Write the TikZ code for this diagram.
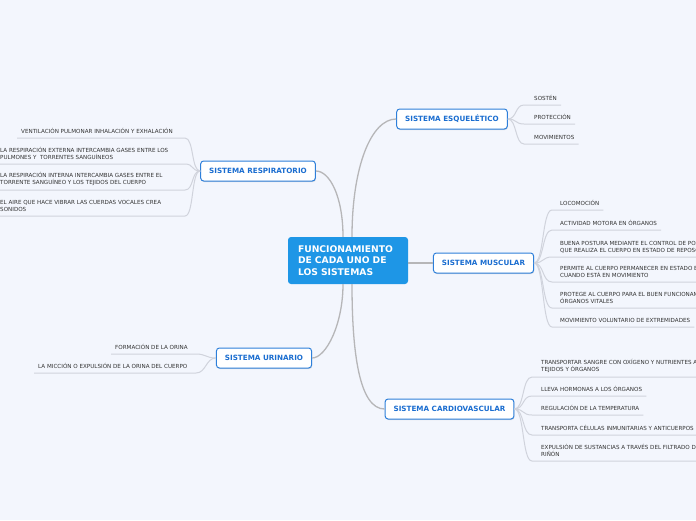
\documentclass[tikz,border=0pt]{standalone}
\usepackage{fontspec}
\setmainfont{DejaVu Sans}
\usetikzlibrary{shadows}

\definecolor{bgcol}{HTML}{F3F6FD}
\definecolor{cenfill}{HTML}{1E96E6}
\definecolor{brdraw}{HTML}{2D7FDA}
\definecolor{brtext}{HTML}{1A6DD0}
\definecolor{linkgray}{HTML}{B6B6B8}
\definecolor{leafgray}{HTML}{D0D3DC}
\definecolor{leaftext}{HTML}{333333}

\tikzset{
  central/.style={fill=cenfill, rounded corners=3pt, text=white, align=left,
    font=\bfseries\fontsize{9.2}{11.6}\selectfont, text width=100pt,
    inner xsep=10pt, minimum height=47pt},
  branch/.style={draw=brdraw, line width=1pt, fill=white, rounded corners=3pt,
    text=brtext, font=\bfseries\fontsize{7.2}{8}\selectfont, inner xsep=8.5pt,
    minimum height=20pt,
    drop shadow={shadow xshift=0.6pt, shadow yshift=-1pt, opacity=0.25}},
  leaf/.style={anchor=south west, inner sep=0pt, align=left, text=leaftext,
    font=\fontsize{5.6}{6.8}\selectfont},
  branchline/.style={draw=linkgray, line width=1.3pt},
  leafline/.style={draw=leafgray, line width=1pt},
}

\begin{document}
\begin{tikzpicture}[x=1pt, y=-1pt]
  \useasboundingbox (0,0) rectangle (696,520);
  \fill[bgcol] (0,0) rectangle (696,520);
  \clip (0,0) rectangle (696,520);

  % centre and systems
  \node[central] (cen) at (348,260.5) {FUNCIONAMIENTO\\DE CADA UNO DE\\LOS SISTEMAS};
  \node[branch] (esq) at (452,119) {SISTEMA ESQUELÉTICO};
  \node[branch] (res) at (258,171) {SISTEMA RESPIRATORIO};
  \node[branch] (mus) at (483.5,263) {SISTEMA MUSCULAR};
  \node[branch] (uri) at (264,358) {SISTEMA URINARIO};
  \node[branch] (car) at (449.5,409) {SISTEMA CARDIOVASCULAR};

  \draw[branchline] ([xshift=-5pt]cen.north) .. controls +(0,-40) and +(14,0) .. (res.east);
  \draw[branchline] ([xshift=4pt]cen.north) .. controls +(0,-70) and +(-25,0) .. (esq.west);
  \draw[branchline] ([xshift=-5pt]cen.south) .. controls +(0,40) and +(14,0) .. (uri.east);
  \draw[branchline] ([xshift=4pt]cen.south) .. controls +(0,70) and +(-25,0) .. (car.west);
  \draw[branchline] (cen.east |- mus.west) -- (mus.west);

  % sistema respiratorio
  \node[leaf] (res1) at (21,134) {VENTILACIÓN PULMONAR INHALACIÓN Y EXHALACIÓN};
  \node[leaf] (res2) at (0,160) {LA RESPIRACIÓN EXTERNA INTERCAMBIA GASES ENTRE LOS\\PULMONES Y~~TORRENTES SANGUÍNEOS};
  \node[leaf] (res3) at (0,186) {LA RESPIRACIÓN INTERNA INTERCAMBIA GASES ENTRE EL\\TORRENTE SANGUÍNEO Y LOS TEJIDOS DEL CUERPO};
  \node[leaf] (res4) at (0,212) {EL AIRE QUE HACE VIBRAR LAS CUERDAS VOCALES CREA\\SONIDOS};
  \coordinate (res1e) at (185,138);
  \coordinate (res2e) at (185,164);
  \coordinate (res3e) at (185,190);
  \coordinate (res4e) at (185,216);
  \draw[leafline] (res.west) .. controls +(-9,0) and +(9,0) .. (res1e) -- (res1e -| res1.west) -- ++(-4,0);
  \draw[leafline] (res.west) .. controls +(-9,0) and +(9,0) .. (res2e) -- (res2e -| res2.west) -- ++(-4,0);
  \draw[leafline] (res.west) .. controls +(-9,0) and +(9,0) .. (res3e) -- (res3e -| res3.west) -- ++(-4,0);
  \draw[leafline] (res.west) .. controls +(-9,0) and +(9,0) .. (res4e) -- (res4e -| res4.west) -- ++(-4,0);

  % sistema esqueletico
  \node[leaf] (esq1) at (534,101) {SOSTÉN};
  \node[leaf] (esq2) at (534,120) {PROTECCIÓN};
  \node[leaf] (esq3) at (534,140) {MOVIMIENTOS};
  \coordinate (esq1s) at (524,105);
  \coordinate (esq2s) at (524,124);
  \coordinate (esq3s) at (524,144);
  \draw[leafline] (esq.east) .. controls +(9,0) and +(-9,0) .. (esq1s) -- (esq1s -| esq1.east) -- ++(4,0);
  \draw[leafline] (esq.east) .. controls +(9,0) and +(-9,0) .. (esq2s) -- (esq2s -| esq2.east) -- ++(4,0);
  \draw[leafline] (esq.east) .. controls +(9,0) and +(-9,0) .. (esq3s) -- (esq3s -| esq3.east) -- ++(4,0);

  % sistema muscular
  \node[leaf] (mus1) at (560,206) {LOCOMOCIÓN};
  \node[leaf] (mus2) at (560,226) {ACTIVIDAD MOTORA EN ÓRGANOS};
  \node[leaf] (mus3) at (560,253) {BUENA POSTURA MEDIANTE EL CONTROL DE POSICIONES\\QUE REALIZA EL CUERPO EN ESTADO DE REPOSO};
  \node[leaf] (mus4) at (560,278) {PERMITE AL CUERPO PERMANECER EN ESTADO ESTABLE\\CUANDO ESTÁ EN MOVIMIENTO};
  \node[leaf] (mus5) at (560,304) {PROTEGE AL CUERPO PARA EL BUEN FUNCIONAMIENTO DE\\ÓRGANOS VITALES};
  \node[leaf] (mus6) at (560,323) {MOVIMIENTO VOLUNTARIO DE EXTREMIDADES};
  \coordinate (mus1s) at (552,210);
  \coordinate (mus2s) at (552,230);
  \coordinate (mus3s) at (552,257);
  \coordinate (mus4s) at (552,282);
  \coordinate (mus5s) at (552,308);
  \coordinate (mus6s) at (552,327);
  \draw[leafline] (mus.east) .. controls +(10,0) and +(-10,0) .. (mus1s) -- (mus1s -| mus1.east) -- ++(4,0);
  \draw[leafline] (mus.east) .. controls +(10,0) and +(-10,0) .. (mus2s) -- (mus2s -| mus2.east) -- ++(4,0);
  \draw[leafline] (mus.east) .. controls +(10,0) and +(-10,0) .. (mus3s) -- (mus3s -| mus3.east) -- ++(4,0);
  \draw[leafline] (mus.east) .. controls +(10,0) and +(-10,0) .. (mus4s) -- (mus4s -| mus4.east) -- ++(4,0);
  \draw[leafline] (mus.east) .. controls +(10,0) and +(-10,0) .. (mus5s) -- (mus5s -| mus5.east) -- ++(4,0);
  \draw[leafline] (mus.east) .. controls +(10,0) and +(-10,0) .. (mus6s) -- (mus6s -| mus6.east) -- ++(4,0);

  % sistema cardiovascular
  \node[leaf] (car1) at (541,373) {TRANSPORTAR SANGRE CON OXÍGENO Y NUTRIENTES A LOS\\TEJIDOS Y ÓRGANOS};
  \node[leaf] (car2) at (541,392) {LLEVA HORMONAS A LOS ÓRGANOS};
  \node[leaf] (car3) at (541,411) {REGULACIÓN DE LA TEMPERATURA};
  \node[leaf] (car4) at (541,431) {TRANSPORTA CÉLULAS INMUNITARIAS Y ANTICUERPOS};
  \node[leaf] (car5) at (541,457) {EXPULSIÓN DE SUSTANCIAS A TRAVÉS DEL FILTRADO DEL\\RIÑÓN};
  \coordinate (car1s) at (532,377);
  \coordinate (car2s) at (532,396);
  \coordinate (car3s) at (532,415);
  \coordinate (car4s) at (532,435);
  \coordinate (car5s) at (532,461);
  \draw[leafline] (car.east) .. controls +(10,0) and +(-10,0) .. (car1s) -- (car1s -| car1.east) -- ++(4,0);
  \draw[leafline] (car.east) .. controls +(10,0) and +(-10,0) .. (car2s) -- (car2s -| car2.east) -- ++(4,0);
  \draw[leafline] (car.east) .. controls +(10,0) and +(-10,0) .. (car3s) -- (car3s -| car3.east) -- ++(4,0);
  \draw[leafline] (car.east) .. controls +(10,0) and +(-10,0) .. (car4s) -- (car4s -| car4.east) -- ++(4,0);
  \draw[leafline] (car.east) .. controls +(10,0) and +(-10,0) .. (car5s) -- (car5s -| car5.east) -- ++(4,0);

  % sistema urinario
  \node[leaf] (uri1) at (115,350) {FORMACIÓN DE LA ORINA};
  \node[leaf] (uri2) at (38,369) {LA MICCIÓN O EXPULSIÓN DE LA ORINA DEL CUERPO};
  \coordinate (uri1e) at (196,354);
  \coordinate (uri2e) at (196,373);
  \draw[leafline] (uri.west) .. controls +(-10,0) and +(10,0) .. (uri1e) -- (uri1e -| uri1.west) -- ++(-4,0);
  \draw[leafline] (uri.west) .. controls +(-10,0) and +(10,0) .. (uri2e) -- (uri2e -| uri2.west) -- ++(-4,0);
\end{tikzpicture}
\end{document}
